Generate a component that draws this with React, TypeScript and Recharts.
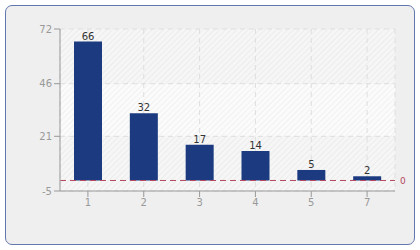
import React from 'react';
import {
  BarChart,
  Bar,
  XAxis,
  YAxis,
  CartesianGrid,
  ReferenceLine,
  LabelList,
} from 'recharts';

const categories = ['1', '2', '3', '4', '5', '7'];
const counts = [66, 32, 17, 14, 5, 2];
const yTicks = [-5, 21, 46, 72];

const data = categories.map((name, i) => ({ name, count: counts[i] }));

const font = '"DejaVu Sans", Verdana, sans-serif';

export default function App() {
  return (
    <div style={{ position: 'absolute', left: 0, top: 0, width: 420, height: 250, background: '#fff' }}>
      <svg width={0} height={0} style={{ position: 'absolute' }}>
        <defs>
          <pattern id="hatch" width={4} height={4} patternUnits="userSpaceOnUse" patternTransform="rotate(45)">
            <rect width={4} height={4} fill="#fbfbfb" />
            <line x1={0} y1={0} x2={0} y2={4} stroke="#eeeeee" strokeWidth={1.5} />
          </pattern>
        </defs>
      </svg>
      <div
        style={{
          position: 'absolute',
          left: 5,
          top: 5,
          width: 408,
          height: 238,
          border: '1px solid #6477ad',
          borderRadius: 7,
          background: '#efefef',
        }}
      />
      <div style={{ position: 'absolute', left: 0, top: 0 }}>
        <BarChart
          width={420}
          height={250}
          data={data}
          margin={{ top: 29, right: 25, bottom: 29, left: 10 }}
          barCategoryGap={0}
        >
          <CartesianGrid
            fill="url(#hatch)"
            horizontalFill={['rgba(0,0,0,0.02)', 'rgba(255,255,255,0)', 'rgba(0,0,0,0.02)']}
            fillOpacity={1}
            stroke="#dedede"
            strokeDasharray="5 4"
          />
          <XAxis
            dataKey="name"
            height={30}
            axisLine={{ stroke: '#999' }}
            tickLine={{ stroke: '#999' }}
            tickSize={6}
            tick={{ fill: '#999', fontSize: 10, fontFamily: font }}
          />
          <XAxis
            xAxisId="top"
            dataKey="name"
            orientation="top"
            height={0}
            tick={false}
            tickLine={false}
            axisLine={{ stroke: '#dddddd' }}
          />
          <YAxis
            width={50}
            domain={[-5, 72]}
            ticks={yTicks}
            interval={0}
            axisLine={{ stroke: '#999' }}
            tickLine={{ stroke: '#999' }}
            tickSize={6}
            tick={{ fill: '#999', fontSize: 10, fontFamily: font }}
          />
          <YAxis
            yAxisId="right"
            orientation="right"
            width={0}
            domain={[-5, 72]}
            tick={false}
            tickLine={false}
            axisLine={{ stroke: '#dddddd' }}
          />
          <ReferenceLine
            y={0}
            stroke="#b4475f"
            strokeDasharray="6 4"
            label={{ value: '0', position: 'right', fill: '#b4475f', fontSize: 9, fontFamily: font }}
          />
          <Bar dataKey="count" fill="#1b3a80" barSize={28} isAnimationActive={false}>
            <LabelList dataKey="count" position="top" offset={2} fill="#333" fontSize={10} fontFamily={font} />
          </Bar>
        </BarChart>
      </div>
    </div>
  );
}
